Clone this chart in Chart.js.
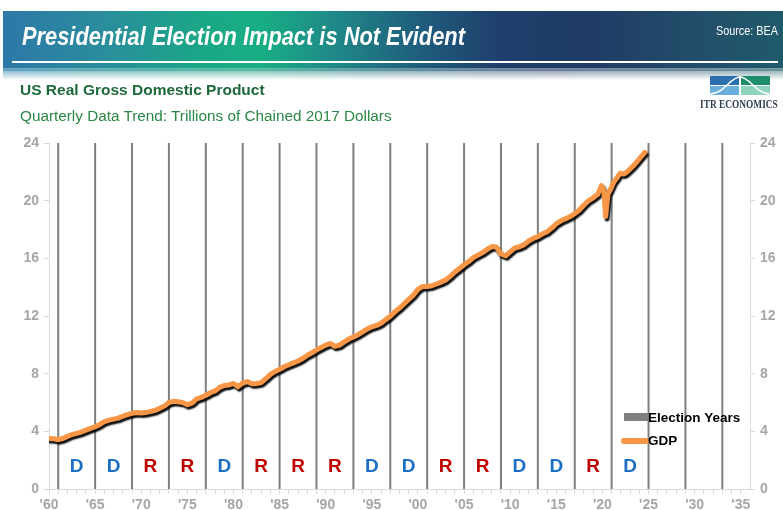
<!DOCTYPE html>
<html>
<head>
<meta charset="utf-8">
<script src="https://cdn.jsdelivr.net/npm/chart.js@4.4.1/dist/chart.umd.min.js"></script>
<style>
  body { margin: 0; background: #fff; font-family: "Liberation Sans", Arial, sans-serif; }
  #wrap { position: relative; width: 783px; height: 510px; overflow: hidden; }
  #gdpChart { position: absolute; left: 0; top: 0; }
  .banner {
    position: absolute; left: 3px; top: 11px; width: 780px; height: 60px;
    background: linear-gradient(90deg, #2d78a8 0%, #2a8d9c 13%, #1aa886 26%, #18ae84 33%, #1f8a88 42%, #1f5b7c 54%, #1f3e6b 64%, #203c66 76%, #224f6a 90%, #1f5a6b 100%);
  }
  .fadecol {
    position: absolute; left: 3px; top: 68px; width: 780px; height: 12px;
    background: linear-gradient(90deg, #6fa9c4 0%, #5fbfa8 30%, #6d9aa8 50%, #7d8ca8 70%, #7aa0a8 100%);
    -webkit-mask-image: linear-gradient(180deg, #000, transparent);
    mask-image: linear-gradient(180deg, #000, transparent);
  }
  .rule { position: absolute; left: 12px; top: 61px; width: 766px; height: 2px; background: #fff; }
  .title {
    position: absolute; left: 22px; top: 21px; color: #fff; font-weight: bold; font-style: italic;
    font-size: 26px; white-space: nowrap; transform: scaleX(0.84); transform-origin: 0 0;
  }
  .source { position: absolute; left: 716px; top: 24px; color: #fff; font-size: 12px; white-space: nowrap;
    transform: scaleX(0.9); transform-origin: 0 0; }
  .sub1 { position: absolute; left: 20px; top: 81px; color: #1e6a3b; font-weight: bold; font-size: 15.5px; white-space: nowrap; }
  .sub2 { position: absolute; left: 20px; top: 107px; color: #2a8745; font-size: 15.3px; white-space: nowrap; }
  .itr { position: absolute; left: 700px; top: 97px; color: #2f3f52; font-family: "Liberation Serif", "Times New Roman", serif;
    font-size: 12px; white-space: nowrap; font-weight: bold; transform: scaleX(0.78); transform-origin: 0 0; }
  .logo { position: absolute; left: 710px; top: 76px; }
</style>
</head>
<body>
<div id="wrap">
  <canvas id="gdpChart" width="783" height="510"></canvas>
  <div class="banner"></div>
  <div class="fadecol"></div>
  <div class="rule"></div>
  <div class="title">Presidential Election Impact is Not Evident</div>
  <div class="source">Source: BEA</div>
  <div class="sub1">US Real Gross Domestic Product</div>
  <div class="sub2">Quarterly Data Trend: Trillions of Chained 2017 Dollars</div>
  <svg class="logo" width="60" height="19" viewBox="0 0 60 19">
    <rect x="0" y="0" width="29" height="9" fill="#2b6fae"/>
    <rect x="31" y="0" width="29" height="9" fill="#1d8f6c"/>
    <rect x="0" y="10" width="29" height="9" fill="#6aaedb"/>
    <rect x="31" y="10" width="29" height="9" fill="#8ed3bc"/>
    <path d="M0,18 C14,18 20,1 30,1 C40,1 46,18 60,18" stroke="#fff" stroke-width="1.5" fill="none"/>
  </svg>
  <div class="itr">ITR ECONOMICS</div>
</div>

<script>
// GDP, trillions of chained 2017 dollars (x in decimal years)
const gdpTime = [
  1960.0, 1960.5, 1961.0, 1961.5, 1962.0, 1962.5, 1963.0, 1963.5, 1964.0, 1964.5,
  1965.0, 1965.5, 1966.0, 1966.5, 1967.0, 1967.5, 1968.0, 1968.5, 1969.0, 1969.5,
  1970.0, 1970.5, 1971.0, 1971.5, 1972.0, 1972.5, 1973.0, 1973.5, 1974.0, 1974.5,
  1975.0, 1975.5, 1976.0, 1976.5, 1977.0, 1977.5, 1978.0, 1978.5, 1979.0, 1979.5,
  1980.0, 1980.5, 1981.0, 1981.5, 1982.0, 1982.5, 1983.0, 1983.5, 1984.0, 1984.5,
  1985.0, 1985.5, 1986.0, 1986.5, 1987.0, 1987.5, 1988.0, 1988.5, 1989.0, 1989.5,
  1990.0, 1990.5, 1991.0, 1991.5, 1992.0, 1992.5, 1993.0, 1993.5, 1994.0, 1994.5,
  1995.0, 1995.5, 1996.0, 1996.5, 1997.0, 1997.5, 1998.0, 1998.5, 1999.0, 1999.5,
  2000.0, 2000.5, 2001.0, 2001.5, 2002.0, 2002.5, 2003.0, 2003.5, 2004.0, 2004.5,
  2005.0, 2005.5, 2006.0, 2006.5, 2007.0, 2007.5, 2008.0, 2008.5, 2009.0, 2009.5,
  2010.0, 2010.5, 2011.0, 2011.5, 2012.0, 2012.5, 2013.0, 2013.5, 2014.0, 2014.5,
  2015.0, 2015.5, 2016.0, 2016.5, 2017.0, 2017.5, 2018.0, 2018.5, 2019.0, 2019.5,
  2019.9, 2020.15, 2020.35, 2020.6, 2020.85, 2021.2, 2021.6, 2021.9, 2022.3, 2022.6,
  2023.0, 2023.4, 2023.8, 2024.2, 2024.6
];
const gdp = [
  3.50, 3.48, 3.42, 3.50, 3.65, 3.78, 3.86, 3.95, 4.08, 4.20,
  4.32, 4.48, 4.68, 4.78, 4.85, 4.92, 5.05, 5.16, 5.25, 5.30,
  5.28, 5.30, 5.38, 5.45, 5.60, 5.75, 6.00, 6.08, 6.05, 6.00,
  5.85, 5.95, 6.25, 6.35, 6.50, 6.68, 6.80, 7.05, 7.18, 7.22,
  7.32, 7.10, 7.35, 7.45, 7.30, 7.32, 7.38, 7.65, 7.95, 8.15,
  8.30, 8.48, 8.62, 8.75, 8.88, 9.05, 9.28, 9.45, 9.65, 9.82,
  9.98, 10.10, 9.90, 9.98, 10.20, 10.40, 10.55, 10.70, 10.90, 11.10,
  11.25, 11.35, 11.50, 11.75, 11.98, 12.30, 12.55, 12.85, 13.15, 13.45,
  13.85, 14.05, 14.05, 14.10, 14.22, 14.35, 14.50, 14.75, 15.05, 15.30,
  15.55, 15.78, 16.05, 16.22, 16.40, 16.62, 16.82, 16.78, 16.30, 16.18,
  16.45, 16.72, 16.80, 16.95, 17.20, 17.38, 17.50, 17.70, 17.85, 18.10,
  18.40, 18.60, 18.75, 18.90, 19.10, 19.35, 19.70, 20.00, 20.20, 20.45,
  21.05, 20.70, 18.90, 20.45, 20.75, 21.25, 21.60, 21.90, 21.85, 21.95,
  22.20, 22.45, 22.75, 23.05, 23.35
];

// vertical election lines (inauguration years) and the party of each term
const electionYears = [1961, 1965, 1969, 1973, 1977, 1981, 1985, 1989, 1993, 1997,
                       2001, 2005, 2009, 2013, 2017, 2021, 2025, 2029, 2033];
const termParty = ['D', 'D', 'R', 'R', 'D', 'R', 'R', 'R', 'D', 'D', 'R', 'R', 'D', 'D', 'R', 'D'];

const yTicks = [0, 4, 8, 12, 16, 20, 24];
const xMin = 1960, xMax = 2036;

const gdpPoints = gdpTime.map((t, i) => ({ x: t, y: gdp[i] }));

// each election line is a 2-point segment followed by a gap
const electionPoints = [];
electionYears.forEach(yr => {
    electionPoints.push({ x: yr, y: 0 }, { x: yr, y: 24 }, { x: yr, y: null });
});

const lineShadow = {
    id: 'lineShadow',
    beforeDatasetDraw(chart, args) {
        if (args.index !== 0) return;
        const c = chart.ctx;
        c.save();
        c.shadowColor = 'rgba(0,0,0,0.95)';
        c.shadowBlur = 1.5;
        c.shadowOffsetX = 1.5;
        c.shadowOffsetY = 2.5;
    },
    afterDatasetDraw(chart, args) {
        if (args.index === 0) chart.ctx.restore();
    }
};

// party letters + legend inside the plot
const extras = {
    id: 'extras',
    afterDraw(chart) {
        const c = chart.ctx, xs = chart.scales.x, ys = chart.scales.y, a = chart.chartArea;
        c.save();
        c.font = 'bold 19px "Liberation Sans", Arial, sans-serif';
        c.textAlign = 'center';
        c.textBaseline = 'middle';
        termParty.forEach((p, i) => {
            c.fillStyle = p === 'D' ? '#1b6fc4' : '#c00000';
            c.fillText(p, xs.getPixelForValue(electionYears[i] + 2), ys.getPixelForValue(1.55));
        });

        // legend
        const lx = a.right - 126;
        c.fillStyle = '#7f7f7f';
        c.fillRect(lx, a.top + 270, 24, 8);
        c.strokeStyle = '#f79646';
        c.lineWidth = 6;
        c.lineCap = 'round';
        c.beginPath();
        c.moveTo(lx, a.top + 298);
        c.lineTo(lx + 22, a.top + 298);
        c.stroke();
        c.fillStyle = '#000';
        c.textAlign = 'left';
        c.font = 'bold 13.5px "Liberation Sans", Arial, sans-serif';
        c.fillText('Election Years', lx + 24, a.top + 275);
        c.fillText('GDP', lx + 24, a.top + 298);
        c.restore();
    }
};

const yAxis = (pos, w) => ({
    type: 'linear',
    position: pos,
    min: 0,
    max: 24,
    afterBuildTicks: s => { s.ticks = yTicks.map(v => ({ value: v })); },
    afterFit: s => { s.width = w; },
    ticks: { color: '#a6a6a6', padding: 5, font: { size: 14, weight: 'bold' } },
    grid: { drawOnChartArea: false, tickLength: 5, color: '#d9d9d9' },
    border: { color: '#d9d9d9' }
});

new Chart(document.getElementById('gdpChart'), {
    type: 'line',
    data: {
        datasets: [
            {
                label: 'GDP',
                data: gdpPoints,
                borderColor: '#f79646',
                borderWidth: 5,
                borderJoinStyle: 'round',
                borderCapStyle: 'round',
                pointRadius: 0,
                tension: 0,
                order: 0
            },
            {
                label: 'Election Years',
                data: electionPoints,
                borderColor: '#7f7f7f',
                borderWidth: 2,
                pointRadius: 0,
                spanGaps: false,
                order: 1
            }
        ]
    },
    options: {
        responsive: false,
        animation: false,
        events: [],
        layout: { padding: { top: 143, left: 0, right: 0, bottom: 0 } },
        scales: {
            x: {
                type: 'linear',
                min: xMin,
                max: xMax,
                afterBuildTicks: s => {
                    const t = [];
                    for (let v = xMin; v <= 2035; v++) t.push({ value: v });
                    s.ticks = t;
                },
                afterFit: s => { s.height = 21; },
                ticks: {
                    autoSkip: false,
                    maxRotation: 0,
                    padding: 3,
                    color: '#a6a6a6',
                    font: { size: 14, weight: 'bold' },
                    callback: v => (v % 5 === 0 ? "'" + String(v).slice(2) : '')
                },
                grid: { drawOnChartArea: false, tickLength: 5, color: '#d9d9d9' },
                border: { color: '#d9d9d9' }
            },
            y: yAxis('left', 49),
            y2: yAxis('right', 33)
        },
        plugins: {
            legend: { display: false },
            tooltip: { enabled: false }
        }
    },
    plugins: [lineShadow, extras]
});
</script>
</body>
</html>
